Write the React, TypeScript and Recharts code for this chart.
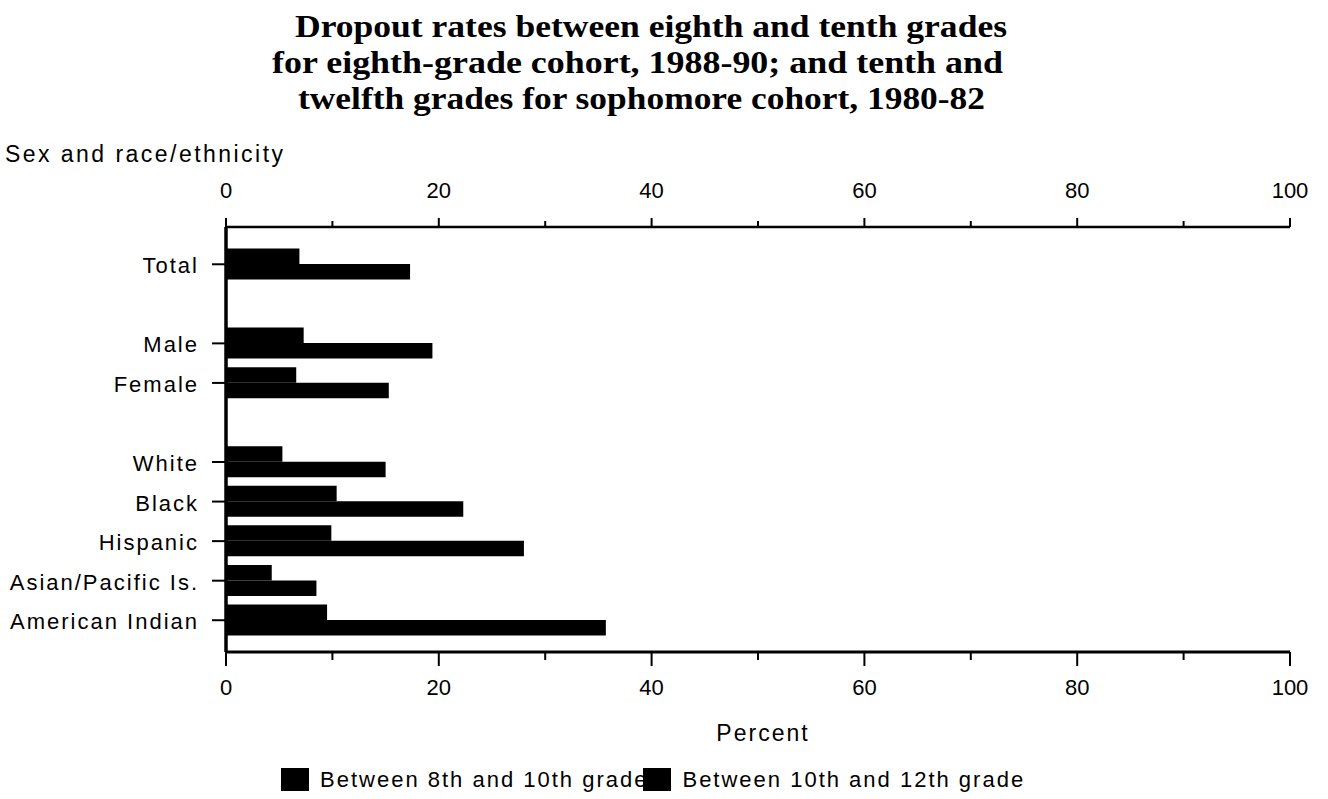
import React from 'react';
import { BarChart, Bar, XAxis, YAxis, Legend } from 'recharts';

// ---- data ----
const categoryKeys = ['total', 'gap1', 'male', 'female', 'gap2', 'white', 'black', 'hispanic', 'asian', 'amind'];
const categoryLabels = ['Total', '', 'Male', 'Female', '', 'White', 'Black', 'Hispanic', 'Asian/Pacific Is.', 'American Indian'];
const grade8to10 = [6.9, null, 7.3, 6.6, null, 5.3, 10.4, 9.9, 4.3, 9.5];
const grade10to12 = [17.3, null, 19.4, 15.3, null, 15.0, 22.3, 28.0, 8.5, 35.7];
const percentTicks = [0, 10, 20, 30, 40, 50, 60, 70, 80, 90, 100];
const seriesNames = ['Between 8th and 10th grade', 'Between 10th and 12th grade'];
const titleLines = [
  'Dropout rates between eighth and tenth grades',
  'for eighth-grade cohort, 1988-90; and tenth and',
  'twelfth grades for sophomore cohort, 1980-82',
];
const yAxisTitle = 'Sex and race/ethnicity';
const xAxisTitle = 'Percent';

const data = categoryKeys.map((key, i) => ({
  key,
  label: categoryLabels[i],
  a: grade8to10[i],
  b: grade10to12[i],
}));
const labelByKey: Record<string, string> = {};
data.forEach((d) => (labelByKey[d.key] = d.label));

const SANS = '"Liberation Sans", Arial, Helvetica, sans-serif';
const SERIF = '"Liberation Serif", "Times New Roman", serif';

const CategoryTick = (props: any) => {
  const { x, y, payload } = props;
  const label = labelByKey[payload.value];
  if (!label) return <g />;
  return (
    <g>
      <line x1={x - 14} x2={x} y1={y} y2={y} stroke="#000" strokeWidth={2} />
      <text
        x={x - 27}
        y={y}
        dy={9}
        textAnchor="end"
        fontFamily={SANS}
        fontSize={22}
        fill="#000"
        style={{ letterSpacing: 2 }}
      >
        {label}
      </text>
    </g>
  );
};

const TopTick = (props: any) => {
  const { x, y, payload } = props;
  const v = payload.value;
  const major = v % 20 === 0;
  return (
    <g>
      <line x1={x} x2={x} y1={y} y2={y - (major ? 9 : 6)} stroke="#000" strokeWidth={2} />
      {major && (
        <text x={x} y={y - 29} textAnchor="middle" fontFamily={SANS} fontSize={22} fill="#000">
          {v}
        </text>
      )}
    </g>
  );
};

const BottomTick = (props: any) => {
  const { x, y, payload } = props;
  const v = payload.value;
  const major = v % 20 === 0;
  return (
    <g>
      <line x1={x} x2={x} y1={y} y2={y + (major ? 14 : 8)} stroke="#000" strokeWidth={2} />
      {major && (
        <text x={x} y={y + 43} textAnchor="middle" fontFamily={SANS} fontSize={22} fill="#000">
          {v}
        </text>
      )}
    </g>
  );
};

const renderLegend = (props: any) => {
  const payload = [...(props.payload || [])].sort(
    (p: any, q: any) => seriesNames.indexOf(p.value) - seriesNames.indexOf(q.value)
  );
  return (
    <div
      style={{
        display: 'flex',
        alignItems: 'center',
        fontFamily: SANS,
        fontSize: 22,
        lineHeight: '25px',
        letterSpacing: 2,
        whiteSpace: 'nowrap',
        color: '#000',
      }}
    >
      {payload.map((e: any, i: number) => (
        <div key={i} style={{ display: 'flex', alignItems: 'center', marginLeft: i > 0 ? -5 : 0 }}>
          <span
            style={{ display: 'inline-block', width: 28, height: 23, background: e.color, marginRight: 11 }}
          />
          <span>{e.value}</span>
        </div>
      ))}
    </div>
  );
};

export default function App() {
  return (
    <div style={{ position: 'absolute', left: 0, top: 0, width: 1328, height: 799, background: '#fff' }}>
      <BarChart
        width={1328}
        height={799}
        data={data}
        layout="vertical"
        margin={{ top: 197, right: 38, bottom: 117, left: 6 }}
        barGap={0}
      >
        <XAxis
          xAxisId="top"
          dataKey="b"
          orientation="top"
          type="number"
          domain={[0, 100]}
          ticks={percentTicks}
          interval={0}
          height={30}
          tickSize={0}
          tickMargin={0}
          tickLine={false}
          axisLine={{ stroke: '#000', strokeWidth: 2.5 }}
          tick={<TopTick />}
        />
        <XAxis
          xAxisId="bottom"
          orientation="bottom"
          type="number"
          domain={[0, 100]}
          ticks={percentTicks}
          interval={0}
          height={30}
          tickSize={0}
          tickMargin={0}
          tickLine={false}
          axisLine={{ stroke: '#000', strokeWidth: 3 }}
          tick={<BottomTick />}
        />
        <YAxis
          type="category"
          dataKey="key"
          width={220}
          interval={0}
          tickSize={0}
          tickMargin={0}
          tickLine={false}
          padding={{ top: 17.5, bottom: 12 }}
          axisLine={{ stroke: '#000', strokeWidth: 3.5 }}
          tick={<CategoryTick />}
        />
        <Legend
          layout="horizontal"
          verticalAlign="middle"
          align="center"
          wrapperStyle={{ position: 'absolute', top: 767, left: 281, width: 900, height: 25 }}
          content={renderLegend}
        />
        <Bar dataKey="a" name={seriesNames[0]} xAxisId="bottom" fill="#000" barSize={15.5} isAnimationActive={false} />
        <Bar dataKey="b" name={seriesNames[1]} xAxisId="bottom" fill="#000" barSize={15.5} isAnimationActive={false} />
      </BarChart>
      <svg
        width={1328}
        height={799}
        style={{ position: 'absolute', left: 0, top: 0, pointerEvents: 'none' }}
      >
        <text x={651} y={37} textAnchor="middle" fontFamily={SERIF} fontWeight="bold" fontSize={31} textLength={712} lengthAdjust="spacingAndGlyphs" fill="#000">
          {titleLines[0]}
        </text>
        <text x={637.5} y={73} textAnchor="middle" fontFamily={SERIF} fontWeight="bold" fontSize={31} textLength={731} lengthAdjust="spacingAndGlyphs" fill="#000">
          {titleLines[1]}
        </text>
        <text x={641.5} y={109} textAnchor="middle" fontFamily={SERIF} fontWeight="bold" fontSize={31} textLength={687} lengthAdjust="spacingAndGlyphs" fill="#000">
          {titleLines[2]}
        </text>
        <text x={5} y={162} fontFamily={SANS} fontSize={23} textLength={278} lengthAdjust="spacing" fill="#000">
          {yAxisTitle}
        </text>
        <text x={763} y={741} textAnchor="middle" fontFamily={SANS} fontSize={23} fill="#000" style={{ letterSpacing: 2 }}>
          {xAxisTitle}
        </text>
      </svg>
    </div>
  );
}
